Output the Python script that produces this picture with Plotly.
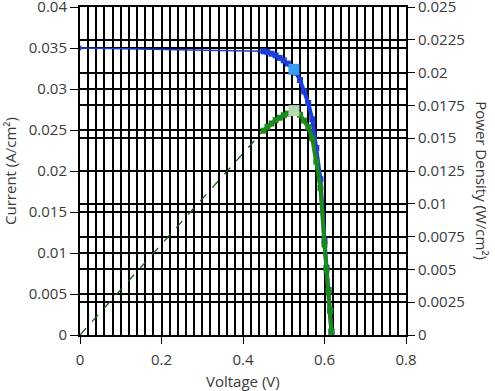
import plotly.graph_objects as go

# ---- data ----
voltage = [0.0, 0.45, 0.46, 0.47, 0.48, 0.49, 0.50, 0.51, 0.52, 0.53, 0.54,
           0.55, 0.56, 0.57, 0.58, 0.59, 0.60, 0.605, 0.61, 0.614, 0.617]
current = [0.0350, 0.0346, 0.0345, 0.0343, 0.0341, 0.0338, 0.0335, 0.0331,
           0.0326, 0.0320, 0.0311, 0.0297, 0.0283, 0.0263, 0.0228, 0.0190,
           0.0115, 0.0082, 0.0055, 0.0030, 0.0004]
power = [0.0, 0.01557, 0.01587, 0.01612, 0.01637, 0.01656, 0.01675, 0.01688,
         0.01695, 0.01696, 0.01679, 0.01634, 0.01585, 0.01499, 0.01322,
         0.01121, 0.00690, 0.00496, 0.00336, 0.00184, 0.00025]
mpp_voltage = [0.525]
mpp_current = [0.0324]
mpp_power = [0.0171]

x_ticks = [0, 0.2, 0.4, 0.6, 0.8]
x_labels = ["0", "0.2", "0.4", "0.6", "0.8"]
y1_ticks = [0, 0.005, 0.01, 0.015, 0.02, 0.025, 0.03, 0.035, 0.04]
y1_labels = ["0", "0.005", "0.01", "0.015", "0.02", "0.025", "0.03", "0.035", "0.04"]
y2_ticks = [0, 0.0025, 0.005, 0.0075, 0.01, 0.0125, 0.015, 0.0175, 0.02, 0.0225, 0.025]
y2_labels = ["0", "0.0025", "0.005", "0.0075", "0.01", "0.0125", "0.015",
             "0.0175", "0.02", "0.0225", "0.025"]
x_title = "Voltage (V)"
y1_title = "Current (A/cm²)"
y2_title = "Power Density (W/cm²)"

BLUE = "#1c3ed8"
GREEN = "#1b8a1b"
TXT = "#3a3a3a"
FONT = "Open Sans"

fig = go.Figure()

# current: thin line to the knee, then dense markers
fig.add_trace(go.Scatter(
    x=voltage[:2], y=current[:2], mode="lines",
    line=dict(color=BLUE, width=1.5), yaxis="y", showlegend=False))
fig.add_trace(go.Scatter(
    x=voltage[1:], y=current[1:], mode="lines+markers",
    line=dict(color=BLUE, width=4),
    marker=dict(symbol="square", size=6, color=BLUE),
    yaxis="y", showlegend=False))
fig.add_trace(go.Scatter(
    x=voltage[:1], y=current[:1], mode="markers",
    marker=dict(symbol="triangle-left", size=5, color=BLUE),
    yaxis="y", showlegend=False, cliponaxis=False))

# power: dashed line to knee, then dense markers
fig.add_trace(go.Scatter(
    x=voltage[:2], y=power[:2], mode="lines",
    line=dict(color="#1a5a1a", width=1.3, dash="dash"), yaxis="y2", showlegend=False))
fig.add_trace(go.Scatter(
    x=voltage[1:], y=power[1:], mode="lines+markers",
    line=dict(color=GREEN, width=4),
    marker=dict(symbol="square", size=6, color=GREEN),
    yaxis="y2", showlegend=False))

# max power point markers
fig.add_trace(go.Scatter(
    x=mpp_voltage, y=mpp_current, mode="markers",
    marker=dict(symbol="square", size=11, color="#3a9cf4"),
    yaxis="y", showlegend=False))
fig.add_trace(go.Scatter(
    x=mpp_voltage, y=mpp_power, mode="markers",
    marker=dict(symbol="square", size=11, color="#b6d6b4"),
    yaxis="y2", showlegend=False))

axis_font = dict(family=FONT, size=15, color=TXT)
title_font = dict(family=FONT, size=15, color=TXT)

fig.update_layout(
    width=495, height=391,
    margin=dict(l=80, r=89, t=7, b=56, autoexpand=False),
    paper_bgcolor="white", plot_bgcolor="white",
    font=dict(family=FONT, size=13, color=TXT),
    showlegend=False,
    xaxis=dict(
        range=[0, 0.8], tickvals=x_ticks, ticktext=x_labels,
        showgrid=True, gridcolor="black", gridwidth=2,
        minor=dict(dtick=0.02, tick0=0, showgrid=True, gridcolor="black", gridwidth=2),
        showline=True, linecolor="black", linewidth=2, mirror=True,
        ticks="outside", ticklen=7, tickcolor="black", tickwidth=1,
        tickfont=axis_font, zeroline=False, automargin=False,
        ticklabeloverflow="allow", ticklabelstandoff=3,
    ),
    yaxis=dict(
        range=[0, 0.04], tickvals=y1_ticks, ticktext=y1_labels,
        showgrid=True, gridcolor="black", gridwidth=2,
        showline=True, linecolor="black", linewidth=2,
        ticks="outside", ticklen=8, tickcolor="black", tickwidth=1,
        tickfont=axis_font, zeroline=False, automargin=False,
        ticklabeloverflow="allow",
    ),
    yaxis2=dict(
        range=[0, 0.025], tickvals=y2_ticks, ticktext=y2_labels,
        overlaying="y", side="right",
        showgrid=True, gridcolor="black", gridwidth=2,
        showline=True, linecolor="black", linewidth=2,
        ticks="outside", ticklen=7, tickcolor="black", tickwidth=1,
        tickfont=axis_font, zeroline=False, automargin=False,
        ticklabeloverflow="allow",
    ),
    annotations=[
        dict(text=x_title, xref="paper", yref="paper", x=0.5, y=-0.14,
             xanchor="center", yanchor="middle", showarrow=False, font=title_font),
        dict(text=y1_title, xref="paper", yref="paper", x=-0.215, y=0.5,
             xanchor="center", yanchor="middle", textangle=-90, showarrow=False,
             font=title_font),
        dict(text=y2_title, xref="paper", yref="paper", x=1.235, y=0.47,
             xanchor="center", yanchor="middle", textangle=90, showarrow=False,
             font=title_font),
    ],
)

fig.write_html("out.html", config={"displayModeBar": False},
               post_script="document.body.style.margin='0';")
